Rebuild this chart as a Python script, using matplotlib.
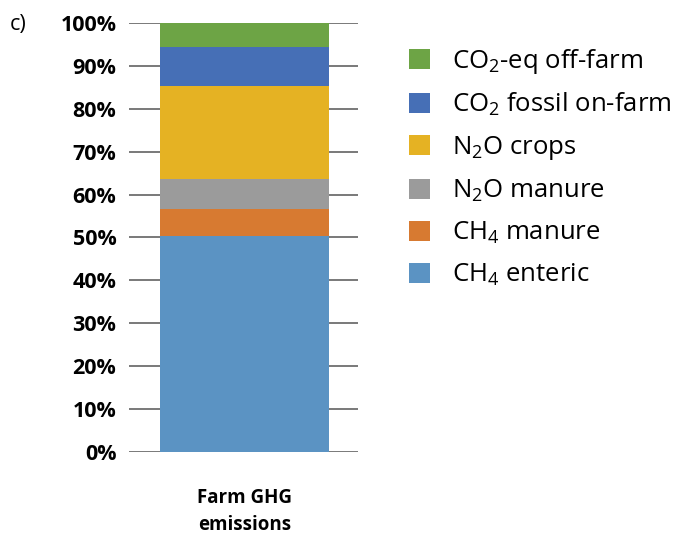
import matplotlib
matplotlib.use('Agg')
import matplotlib.pyplot as plt
from matplotlib.patches import Patch

# Share of farm GHG emissions (%), bottom to top
categories = ['CH$_4$ enteric', 'CH$_4$ manure', 'N$_2$O manure',
              'N$_2$O crops', 'CO$_2$ fossil on-farm', 'CO$_2$-eq off-farm']
shares = [50.4, 6.2, 7.0, 21.6, 9.1, 5.7]
colors = ['#5B93C3', '#D77A31', '#9B9B9B', '#E5B223', '#466FB6', '#6DA445']
y_ticks = list(range(0, 101, 10))
bar_label = 'Farm GHG\nemissions'

plt.rcParams['font.family'] = ['Open Sans', 'DejaVu Sans']
plt.rcParams['mathtext.fontset'] = 'custom'
plt.rcParams['mathtext.rm'] = 'Open Sans'
plt.rcParams['mathtext.default'] = 'regular'

fig = plt.figure(figsize=(6.78, 5.35), dpi=100)
ax = fig.add_axes([0.190, 0.1546, 0.338, 0.803])

# Stacked bar
bottom = 0
for val, col in zip(shares, colors):
    ax.bar(0, val, width=1.0, bottom=bottom, color=col, zorder=3)
    bottom += val

ax.set_xlim(-0.685, 0.67)
ax.set_ylim(0, 100)
ax.set_yticks(y_ticks)
ax.set_yticklabels([f'{t}%' for t in y_ticks], fontsize=15.5, fontweight='bold')
ax.set_xticks([0])
ax.set_xticklabels([bar_label], fontsize=13.5, fontweight='bold', linespacing=1.42)
ax.tick_params(axis='both', length=0)
ax.tick_params(axis='y', pad=9)
ax.tick_params(axis='x', pad=26)
ax.grid(axis='y', color='#555555', linewidth=1.1, zorder=0)
for s in ax.spines.values():
    s.set_visible(False)

# Legend, top entry first
handles = [Patch(facecolor=c, edgecolor='none') for c in colors][::-1]
fig.legend(handles, categories[::-1], loc='upper left',
           bbox_to_anchor=(0.603, 0.913), frameon=False, fontsize=18.5,
           handlelength=0.82, handleheight=0.82, handletextpad=0.86,
           labelspacing=0.61, borderpad=0, borderaxespad=0)

fig.text(0.014, 0.955, 'c)', fontsize=15.5, va='center')

plt.savefig('out.png', dpi=100)
